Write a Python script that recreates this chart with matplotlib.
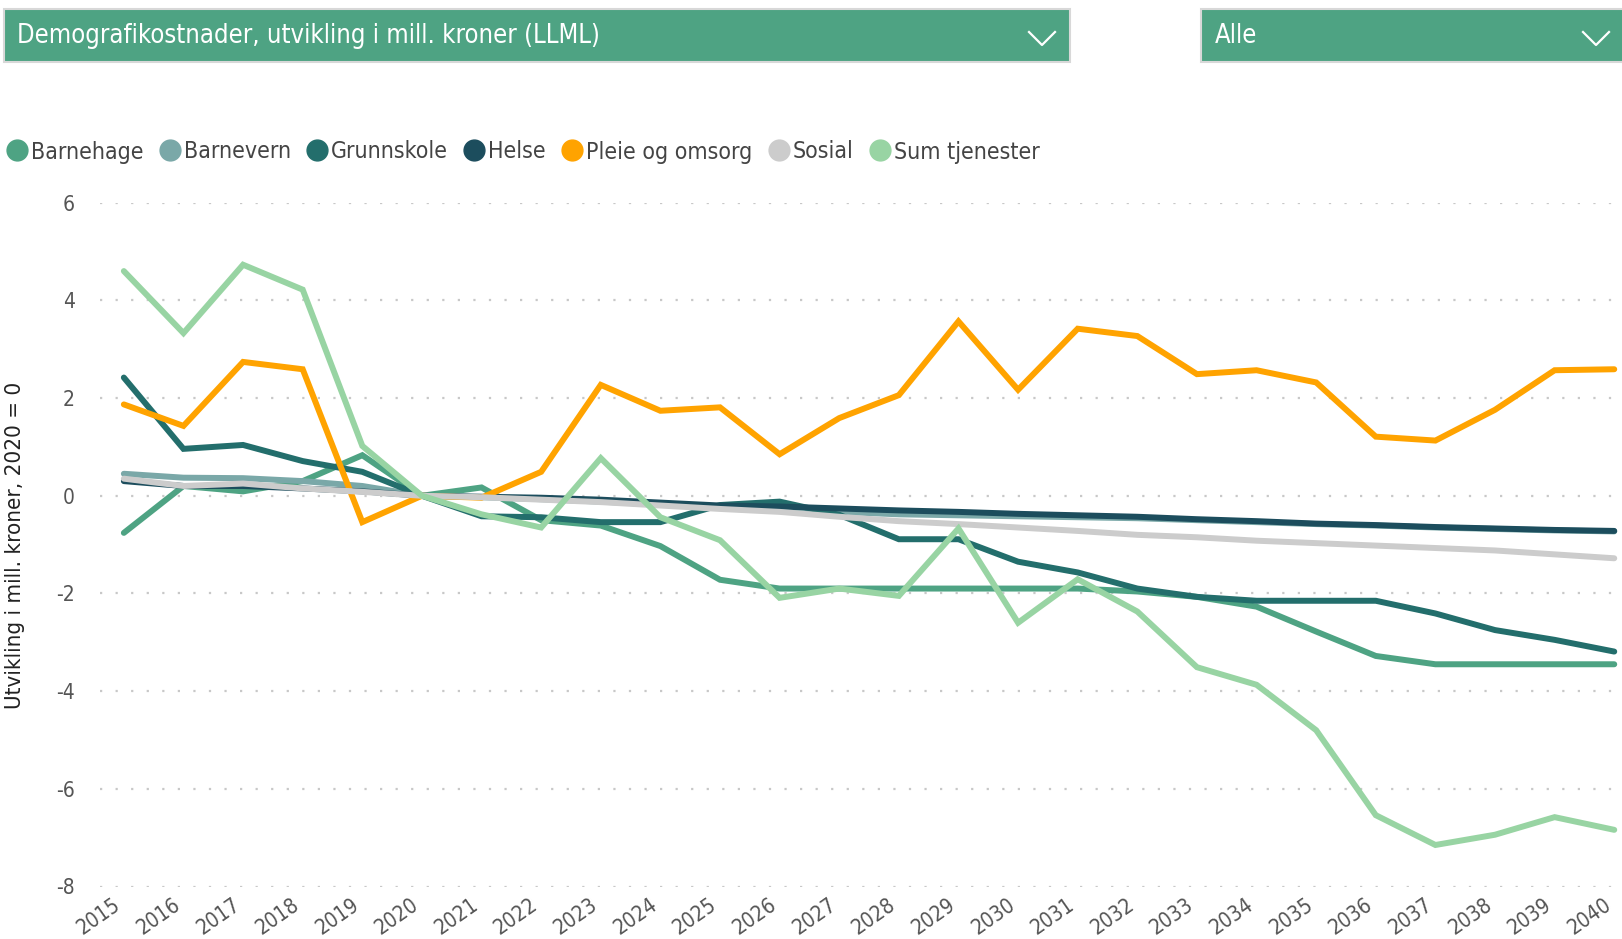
import matplotlib
matplotlib.use("Agg")
import matplotlib.pyplot as plt
import matplotlib.transforms as mtransforms
from matplotlib.patches import Rectangle
from matplotlib.lines import Line2D

plt.rcParams['font.family'] = ['DejaVu Sans']
plt.rcParams['font.stretch'] = 'condensed'

years = list(range(2015, 2041))
series_names = ["Barnehage", "Barnevern", "Grunnskole", "Helse", "Pleie og omsorg", "Sosial", "Sum tjenester"]
colors = ["#4EA383", "#7AA8A8", "#236E6C", "#1C4D5D", "#FFA300", "#CCCCCC", "#98D4A3"]

barnehage = [-0.76, 0.20, 0.09, 0.30, 0.83, 0.0, 0.17, -0.50, -0.61, -1.03, -1.72, -1.90, -1.90, -1.90,
             -1.90, -1.90, -1.90, -1.96, -2.07, -2.27, -2.78, -3.28, -3.45, -3.45, -3.45, -3.45]
barnevern = [0.45, 0.37, 0.36, 0.30, 0.20, 0.0, -0.03, -0.07, -0.12, -0.18, -0.24, -0.27, -0.33, -0.38,
             -0.40, -0.42, -0.44, -0.46, -0.50, -0.54, -0.58, -0.61, -0.65, -0.68, -0.71, -0.73]
grunnskole = [2.42, 0.96, 1.04, 0.71, 0.49, 0.0, -0.42, -0.44, -0.54, -0.54, -0.19, -0.12, -0.39, -0.89,
              -0.89, -1.35, -1.57, -1.90, -2.07, -2.15, -2.15, -2.15, -2.41, -2.75, -2.95, -3.19]
helse = [0.30, 0.20, 0.20, 0.15, 0.09, 0.0, -0.02, -0.04, -0.08, -0.14, -0.20, -0.22, -0.26, -0.30,
         -0.33, -0.37, -0.40, -0.43, -0.48, -0.52, -0.57, -0.60, -0.64, -0.67, -0.70, -0.72]
pleie = [1.87, 1.43, 2.74, 2.59, -0.54, 0.0, -0.04, 0.49, 2.27, 1.74, 1.81, 0.85, 1.59, 2.06,
         3.57, 2.17, 3.42, 3.27, 2.49, 2.57, 2.32, 1.21, 1.13, 1.76, 2.57, 2.59]
sosial = [0.35, 0.20, 0.25, 0.15, 0.08, 0.0, -0.03, -0.08, -0.13, -0.20, -0.27, -0.33, -0.43, -0.52,
          -0.58, -0.65, -0.72, -0.80, -0.85, -0.92, -0.97, -1.02, -1.07, -1.12, -1.20, -1.28]
sum_tjenester = [4.60, 3.33, 4.73, 4.22, 1.02, 0.0, -0.38, -0.65, 0.77, -0.44, -0.91, -2.09, -1.90, -2.05,
                 -0.67, -2.60, -1.71, -2.37, -3.51, -3.87, -4.80, -6.54, -7.15, -6.94, -6.58, -6.84]
all_series = [barnehage, barnevern, grunnskole, helse, pleie, sosial, sum_tjenester]

y_ticks = [6, 4, 2, 0, -2, -4, -6, -8]
title_text = "Demografikostnader, utvikling i mill. kroner (LLML)"
filter_text = "Alle"
y_label = "Utvikling i mill. kroner, 2020 = 0"

W, H = 1622, 939
fig = plt.figure(figsize=(W / 100, H / 100), dpi=100)
fig.patch.set_facecolor("white")

def fx(px):
    return px / W

def fy(py):
    return 1 - py / H

# axes
ax_left, ax_right, ax_top, ax_bottom = 100, 1622, 202.7, 886.5
ax = fig.add_axes([fx(ax_left), fy(ax_bottom), fx(ax_right - ax_left), (ax_bottom - ax_top) / H])
for name, col, vals in zip(series_names, colors, all_series):
    ax.plot(years, vals, color=col, lw=4.3, solid_joinstyle="miter", solid_capstyle="round", label=name)

ax.set_xlim(2014.6, 2040.13)
ax.set_ylim(-8, 6)
ax.set_yticks(y_ticks)
ax.set_yticklabels([str(t) for t in y_ticks])
ax.set_xticks(years)
ax.set_xticklabels([str(y) for y in years], rotation=35, ha="right", va="top", rotation_mode="anchor")
ax.tick_params(axis="x", length=0, pad=6, labelsize=15, labelcolor="#555555")
ax.tick_params(axis="y", length=0, pad=18, labelsize=15, labelcolor="#555555")
offset = mtransforms.ScaledTranslation(-11 / 100, 0, fig.dpi_scale_trans)
for lab in ax.get_xticklabels():
    lab.set_transform(lab.get_transform() + offset)
for s in ax.spines.values():
    s.set_visible(False)
ax.grid(axis="y", color="#C8C8C8", linestyle=(0, (1, 6)), lw=1.6)
ax.grid(axis="x", visible=False)
ax.set_axisbelow(True)
ax.set_facecolor("none")
fig.text(fx(15), fy(545), y_label, fontsize=16, color="#222222", rotation=90, ha="center", va="center")

# header boxes
hdr = "#4EA383"
fig.patches.append(Rectangle((fx(4), fy(62)), fx(1066), 53 / H, transform=fig.transFigure,
                             facecolor=hdr, edgecolor="#D8D8D8", lw=1.5))
fig.patches.append(Rectangle((fx(1201), fy(62)), fx(425), 53 / H, transform=fig.transFigure,
                             facecolor=hdr, edgecolor="#D8D8D8", lw=1.5))
fig.text(fx(17), fy(36), title_text, color="white", fontsize=18.4, va="center", ha="left")
fig.text(fx(1215), fy(36), filter_text, color="white", fontsize=18.4, va="center", ha="left")
for cx in (1042, 1596):
    fig.lines.append(Line2D([fx(cx - 13), fx(cx), fx(cx + 13)], [fy(32), fy(45), fy(32)],
                            transform=fig.transFigure, color="white", lw=1.6))

# legend
handles = [Line2D([], [], marker="o", linestyle="none", markersize=15, markerfacecolor=c,
                  markeredgecolor=c) for c in colors]
leg = fig.legend(handles, series_names, loc="center left", bbox_to_anchor=(fx(3), fy(152)),
                 ncol=7, frameon=False, fontsize=16.6, handletextpad=0.0, columnspacing=0.55,
                 handlelength=1.2, borderaxespad=0, borderpad=0)
for t in leg.get_texts():
    t.set_color("#444444")

fig.savefig("out.png", dpi=100)
